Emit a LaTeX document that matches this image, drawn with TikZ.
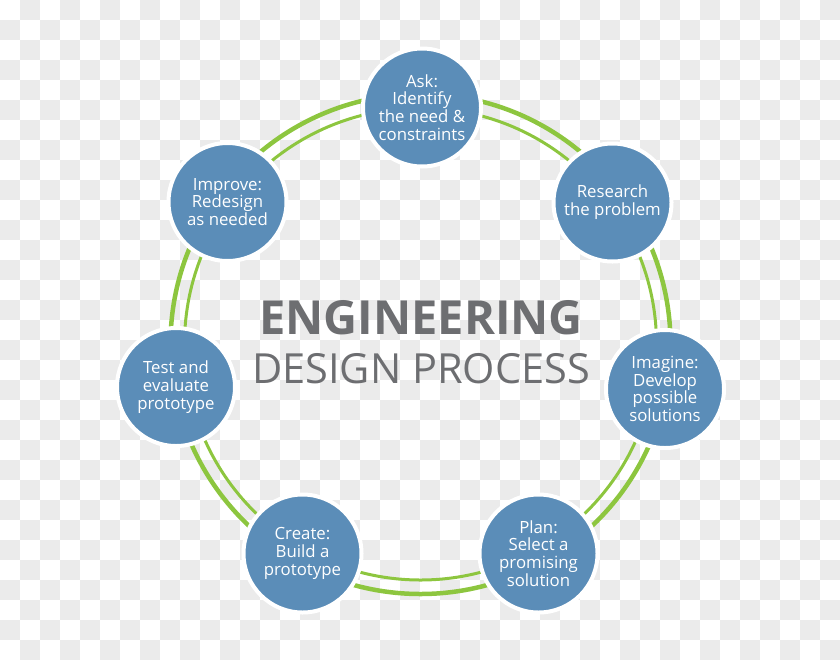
\documentclass[tikz,border=0pt]{standalone}
\usepackage{fontspec}
\setmainfont{Open Sans}

\definecolor{stageblue}{HTML}{5B8DB8}
\definecolor{ringgreen}{HTML}{8DC63F}
\definecolor{titlegray}{HTML}{6D6E71}
\definecolor{checkgray}{HTML}{EBEBEB}

\tikzset{
  stage/.style={circle, fill=stageblue, draw=white, line width=4pt,
    minimum size=118pt, inner sep=0pt, text=white, align=center,
    font=\fontsize{16.8}{17.8}\selectfont},
}

\begin{document}
\begin{tikzpicture}[x=1pt,y=-1pt]
\useasboundingbox (0,0) rectangle (840,659);

% checker background
\foreach \i in {0,...,41}
  \foreach \j in {0,...,32}{
    \pgfmathparse{int(mod(\i+\j,2))}
    \ifnum\pgfmathresult=1 \fill[checkgray] (\i*20,\j*20) rectangle ++(20,20); \fi
  }

% the ring
\coordinate (hub) at (420.5,344);
\draw[ringgreen, line width=4.5pt] (hub) circle[radius=250];
\draw[ringgreen, line width=3pt] (hub) circle[radius=236];

\node[text=titlegray, font=\fontsize{47}{47}\selectfont\bfseries] (title) at (421,317.5) {ENGINEERING};
\node[text=titlegray, font=\fontsize{41.5}{41.5}\selectfont] (subtitle) at (421,368.5) {DESIGN PROCESS};

\node[stage] (ask) at (422,107.5) {Ask:\\Identify\\the need \&\\constraints};
\node[stage] (research) at (612.5,202.5) {Research\\the problem};
\node[stage] (imagine) at (665,389) {Imagine:\\Develop\\possible\\solutions};
\node[stage] (plan) at (538.5,553.5) {Plan:\\Select a\\promising\\solution};
\node[stage] (create) at (302.5,553.5) {Create:\\Build a\\prototype};
\node[stage] (test) at (176,387) {Test and\\evaluate\\prototype};
\node[stage] (improve) at (227.5,202) {Improve:\\Redesign\\as needed};
\end{tikzpicture}
\end{document}
